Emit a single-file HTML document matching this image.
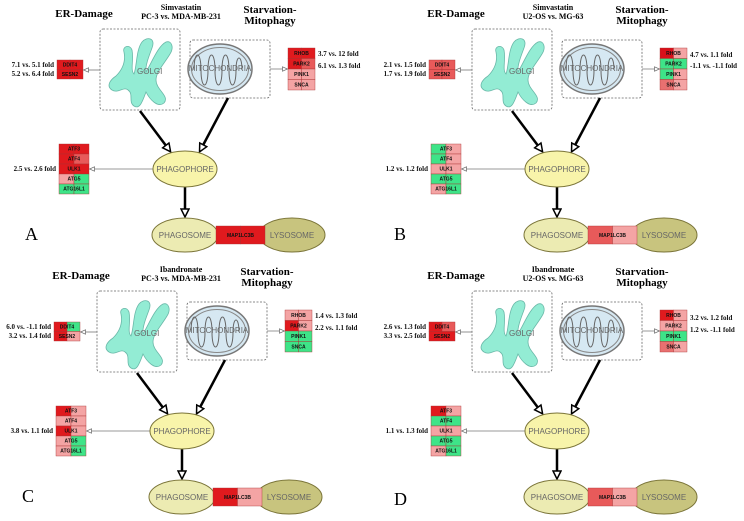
<!DOCTYPE html>
<html><head><meta charset="utf-8"><style>
html,body{margin:0;padding:0;background:#fff;}
svg{display:block;}
.h{font-family:"Liberation Serif",serif;font-weight:bold;}
.g{font-family:"Liberation Sans",sans-serif;font-weight:bold;font-size:5px;fill:#111;}
.f{font-family:"Liberation Serif",serif;font-weight:bold;font-size:7px;fill:#111;}
.o{font-family:"Liberation Sans",sans-serif;font-size:8px;fill:#666;}
</style></head><body>
<svg width="744" height="521" viewBox="0 0 744 521" xmlns="http://www.w3.org/2000/svg">
<defs>
<marker id="big" markerWidth="10" markerHeight="10" refX="8" refY="5" orient="auto" markerUnits="userSpaceOnUse"><path d="M1,1 L9,5 L1,9 Z" fill="#fff" stroke="#000" stroke-width="1.5"/></marker>
<marker id="sm" markerWidth="6" markerHeight="6" refX="5" refY="3" orient="auto" markerUnits="userSpaceOnUse"><path d="M0.5,0.8 L5.5,3 L0.5,5.2 Z" fill="#fff" stroke="#666" stroke-width="0.7"/></marker>
<g id="base">
<rect x="100" y="29" width="80" height="81" rx="3" fill="#fff" stroke="#666" stroke-width="0.8" stroke-dasharray="2,1.5"/>
<rect x="190" y="40" width="80" height="58" rx="3" fill="#fff" stroke="#666" stroke-width="0.8" stroke-dasharray="2,1.5"/>
<path d="M124,52 C122,46 130,44 132,50 C134,60 130,70 134,74 C137,66 136,50 142,42 C147,36 156,38 152,48 C149,56 145,66 146,72 C152,62 158,46 166,42 C172,40 174,48 170,54 C164,64 156,72 156,80 C156,90 170,96 164,103 C158,108 150,100 146,92 C143,100 140,110 134,106 C128,102 134,94 128,90 C124,86 118,94 112,90 C106,86 110,80 116,76 C122,70 126,62 124,52 Z" fill="#93ecd4" stroke="#6ab8a8" stroke-width="0.8"/>
<text x="137" y="74" class="o" fill="#5a9" font-size="7">GOLGI</text>
<ellipse cx="220" cy="69" rx="32" ry="25" fill="#d6e8f2" stroke="#777" stroke-width="1.5"/>
<ellipse cx="220" cy="69" rx="28.5" ry="21.5" fill="none" stroke="#888" stroke-width="1"/>
<path d="M194,70 c0,-20 7,-20 7,0 c0,20 7,20 7,0 c0,-20 7,-20 7,0 c0,20 7,20 7,0 c0,-20 7,-20 7,0 c0,20 7,20 7,0 c0,-16 6,-16 6,0" fill="none" stroke="#666" stroke-width="1"/>
<text x="220" y="71" class="o" font-size="5.5" text-anchor="middle" fill="#8a9aa8">MITOCHONDRIA</text>
<line x1="100" y1="70" x2="84" y2="70" stroke="#777" stroke-width="0.8" marker-end="url(#sm)"/>
<line x1="270" y1="69" x2="287" y2="69" stroke="#777" stroke-width="0.8" marker-end="url(#sm)"/>
<line x1="153" y1="169" x2="90" y2="169" stroke="#777" stroke-width="0.8" marker-end="url(#sm)"/>
<line x1="140" y1="111" x2="170" y2="151" stroke="#000" stroke-width="2.5" marker-end="url(#big)"/>
<line x1="228" y1="98" x2="200" y2="151" stroke="#000" stroke-width="2.5" marker-end="url(#big)"/>
<line x1="185" y1="187" x2="185" y2="216" stroke="#000" stroke-width="2.5" marker-end="url(#big)"/>
<ellipse cx="185" cy="169" rx="32" ry="18" fill="#f8f4aa" stroke="#7a7438" stroke-width="1"/>
<text x="185" y="172" class="o" font-size="8" text-anchor="middle">PHAGOPHORE</text>
<ellipse cx="185" cy="235" rx="33" ry="17" fill="#ecebb2" stroke="#7a7438" stroke-width="1"/>
<ellipse cx="292" cy="235" rx="33" ry="17" fill="#c8c47e" stroke="#7a7438" stroke-width="1"/>
<text x="185" y="238" class="o" font-size="8" text-anchor="middle">PHAGOSOME</text>
<text x="292" y="238" class="o" font-size="8" text-anchor="middle">LYSOSOME</text>
<text x="84" y="17" class="h" font-size="11" text-anchor="middle">ER-Damage</text>
<text x="270" y="13" class="h" font-size="11" text-anchor="middle">Starvation-</text>
<text x="270" y="24" class="h" font-size="11" text-anchor="middle">Mitophagy</text>
</g>
</defs>

<!-- Panel A -->
<g>
<use href="#base"/>
<text x="181" y="10" class="h" font-size="8" text-anchor="middle" font-weight="normal">Simvastatin</text>
<text x="181" y="19" class="h" font-size="8" text-anchor="middle">PC-3 vs. MDA-MB-231</text>
<text x="25" y="240" font-family="Liberation Serif" font-size="18">A</text>
<g stroke="#a33" stroke-width="0.4">
<rect x="57" y="60" width="13" height="9.5" fill="#e01a1e"/><rect x="70" y="60" width="13" height="9.5" fill="#e01a1e"/>
<rect x="57" y="69.5" width="13" height="9.5" fill="#e01a1e"/><rect x="70" y="69.5" width="13" height="9.5" fill="#e01a1e"/>
<rect x="288" y="48" width="13.5" height="10.5" fill="#e01a1e"/><rect x="301.5" y="48" width="13.5" height="10.5" fill="#e01a1e"/>
<rect x="288" y="58.5" width="13.5" height="10.5" fill="#e01a1e"/><rect x="301.5" y="58.5" width="13.5" height="10.5" fill="#e85a5a"/>
<rect x="288" y="69" width="13.5" height="10.5" fill="#f4a4a4"/><rect x="301.5" y="69" width="13.5" height="10.5" fill="#f4a4a4"/>
<rect x="288" y="79.5" width="13.5" height="10.5" fill="#f4a4a4"/><rect x="301.5" y="79.5" width="13.5" height="10.5" fill="#f4a4a4"/>
<rect x="59" y="144" width="15" height="10" fill="#e01a1e"/><rect x="74" y="144" width="15" height="10" fill="#e01a1e"/>
<rect x="59" y="154" width="15" height="10" fill="#e01a1e"/><rect x="74" y="154" width="15" height="10" fill="#e85a5a"/>
<rect x="59" y="164" width="15" height="10" fill="#e01a1e"/><rect x="74" y="164" width="15" height="10" fill="#e01a1e"/>
<rect x="59" y="174" width="15" height="10" fill="#f4a4a4"/><rect x="74" y="174" width="15" height="10" fill="#3ee488"/>
<rect x="59" y="184" width="15" height="10" fill="#3ee488"/><rect x="74" y="184" width="15" height="10" fill="#3ee488"/>
<rect x="216" y="226" width="24.5" height="18" fill="#e01a1e"/><rect x="240.5" y="226" width="24.5" height="18" fill="#e01a1e"/>
</g>
<text x="70" y="66.5" class="g" text-anchor="middle">DDIT4</text><text x="70" y="76" class="g" text-anchor="middle">SESN2</text>
<text x="301.5" y="55" class="g" text-anchor="middle">RHOB</text><text x="301.5" y="65.5" class="g" text-anchor="middle">PARK2</text><text x="301.5" y="76" class="g" text-anchor="middle">PINK1</text><text x="301.5" y="86.5" class="g" text-anchor="middle">SNCA</text>
<text x="74" y="150.5" class="g" text-anchor="middle">ATF3</text><text x="74" y="160.5" class="g" text-anchor="middle">ATF4</text><text x="74" y="170.5" class="g" text-anchor="middle">ULK1</text><text x="74" y="180.5" class="g" text-anchor="middle">ATG5</text><text x="74" y="190.5" class="g" text-anchor="middle">ATG16L1</text>
<text x="240.5" y="237" class="g" text-anchor="middle">MAP1LC3B</text>
<text x="54" y="67" class="f" text-anchor="end">7.1 vs. 5.1 fold</text><text x="54" y="76" class="f" text-anchor="end">5.2 vs. 6.4 fold</text>
<text x="318" y="56" class="f">3.7 vs. 12 fold</text><text x="318" y="68" class="f">6.1 vs. 1.3 fold</text>
<text x="56" y="171" class="f" text-anchor="end">2.5 vs. 2.6 fold</text>
</g>

<!-- Panel B -->
<g transform="translate(372,0)">
<use href="#base"/>
<text x="181" y="10" class="h" font-size="8" text-anchor="middle" font-weight="normal">Simvastatin</text>
<text x="181" y="19" class="h" font-size="8" text-anchor="middle">U2-OS vs. MG-63</text>
<text x="22" y="240" font-family="Liberation Serif" font-size="18">B</text>
<g stroke="#a33" stroke-width="0.4">
<rect x="57" y="60" width="13" height="9.5" fill="#e85a5a"/><rect x="70" y="60" width="13" height="9.5" fill="#e85a5a"/>
<rect x="57" y="69.5" width="13" height="9.5" fill="#e85a5a"/><rect x="70" y="69.5" width="13" height="9.5" fill="#e85a5a"/>
<rect x="288" y="48" width="13.5" height="10.5" fill="#d8101a"/><rect x="301.5" y="48" width="13.5" height="10.5" fill="#f4a4a4"/>
<rect x="288" y="58.5" width="13.5" height="10.5" fill="#3ee488"/><rect x="301.5" y="58.5" width="13.5" height="10.5" fill="#3ee488"/>
<rect x="288" y="69" width="13.5" height="10.5" fill="#3ee488"/><rect x="301.5" y="69" width="13.5" height="10.5" fill="#f4a4a4"/>
<rect x="288" y="79.5" width="13.5" height="10.5" fill="#e87070"/><rect x="301.5" y="79.5" width="13.5" height="10.5" fill="#f4a4a4"/>
<rect x="59" y="144" width="15" height="10" fill="#3ee488"/><rect x="74" y="144" width="15" height="10" fill="#f4a4a4"/>
<rect x="59" y="154" width="15" height="10" fill="#3ee488"/><rect x="74" y="154" width="15" height="10" fill="#f4a4a4"/>
<rect x="59" y="164" width="15" height="10" fill="#f4a4a4"/><rect x="74" y="164" width="15" height="10" fill="#f4a4a4"/>
<rect x="59" y="174" width="15" height="10" fill="#3ee488"/><rect x="74" y="174" width="15" height="10" fill="#3ee488"/>
<rect x="59" y="184" width="15" height="10" fill="#f4a4a4"/><rect x="74" y="184" width="15" height="10" fill="#3ee488"/>
<rect x="216" y="226" width="24.5" height="18" fill="#e85a5a"/><rect x="240.5" y="226" width="24.5" height="18" fill="#f4a4a4"/>
</g>
<text x="70" y="66.5" class="g" text-anchor="middle">DDIT4</text><text x="70" y="76" class="g" text-anchor="middle">SESN2</text>
<text x="301.5" y="55" class="g" text-anchor="middle">RHOB</text><text x="301.5" y="65.5" class="g" text-anchor="middle">PARK2</text><text x="301.5" y="76" class="g" text-anchor="middle">PINK1</text><text x="301.5" y="86.5" class="g" text-anchor="middle">SNCA</text>
<text x="74" y="150.5" class="g" text-anchor="middle">ATF3</text><text x="74" y="160.5" class="g" text-anchor="middle">ATF4</text><text x="74" y="170.5" class="g" text-anchor="middle">ULK1</text><text x="74" y="180.5" class="g" text-anchor="middle">ATG5</text><text x="74" y="190.5" class="g" text-anchor="middle">ATG16L1</text>
<text x="240.5" y="237" class="g" text-anchor="middle">MAP1LC3B</text>
<text x="54" y="67" class="f" text-anchor="end">2.1 vs. 1.5 fold</text><text x="54" y="76" class="f" text-anchor="end">1.7 vs. 1.9 fold</text>
<text x="318" y="57" class="f">4.7 vs. 1.1 fold</text><text x="318" y="68" class="f">-1.1 vs. -1.1 fold</text>
<text x="56" y="171" class="f" text-anchor="end">1.2 vs. 1.2 fold</text>
</g>

<!-- Panel C -->
<g transform="translate(-3,262)">
<use href="#base"/>
<text x="184" y="10" class="h" font-size="8" text-anchor="middle" font-weight="normal">Ibandronate</text>
<text x="184" y="19" class="h" font-size="8" text-anchor="middle">PC-3 vs. MDA-MB-231</text>
<text x="25" y="240" font-family="Liberation Serif" font-size="18">C</text>
<g stroke="#a33" stroke-width="0.4">
<rect x="57" y="60" width="13" height="9.5" fill="#e01a1e"/><rect x="70" y="60" width="13" height="9.5" fill="#3ee488"/>
<rect x="57" y="69.5" width="13" height="9.5" fill="#e01a1e"/><rect x="70" y="69.5" width="13" height="9.5" fill="#f4a4a4"/>
<rect x="288" y="48" width="13.5" height="10.5" fill="#f4a4a4"/><rect x="301.5" y="48" width="13.5" height="10.5" fill="#f4a4a4"/>
<rect x="288" y="58.5" width="13.5" height="10.5" fill="#e01a1e"/><rect x="301.5" y="58.5" width="13.5" height="10.5" fill="#f4a4a4"/>
<rect x="288" y="69" width="13.5" height="10.5" fill="#3ee488"/><rect x="301.5" y="69" width="13.5" height="10.5" fill="#3ee488"/>
<rect x="288" y="79.5" width="13.5" height="10.5" fill="#3ee488"/><rect x="301.5" y="79.5" width="13.5" height="10.5" fill="#3ee488"/>
<rect x="59" y="144" width="15" height="10" fill="#e01a1e"/><rect x="74" y="144" width="15" height="10" fill="#f4a4a4"/>
<rect x="59" y="154" width="15" height="10" fill="#f4a4a4"/><rect x="74" y="154" width="15" height="10" fill="#f4a4a4"/>
<rect x="59" y="164" width="15" height="10" fill="#e01a1e"/><rect x="74" y="164" width="15" height="10" fill="#f4a4a4"/>
<rect x="59" y="174" width="15" height="10" fill="#f4a4a4"/><rect x="74" y="174" width="15" height="10" fill="#3ee488"/>
<rect x="59" y="184" width="15" height="10" fill="#f4a4a4"/><rect x="74" y="184" width="15" height="10" fill="#3ee488"/>
<rect x="216" y="226" width="24.5" height="18" fill="#e01a1e"/><rect x="240.5" y="226" width="24.5" height="18" fill="#f4a4a4"/>
</g>
<text x="70" y="66.5" class="g" text-anchor="middle">DDIT4</text><text x="70" y="76" class="g" text-anchor="middle">SESN2</text>
<text x="301.5" y="55" class="g" text-anchor="middle">RHOB</text><text x="301.5" y="65.5" class="g" text-anchor="middle">PARK2</text><text x="301.5" y="76" class="g" text-anchor="middle">PINK1</text><text x="301.5" y="86.5" class="g" text-anchor="middle">SNCA</text>
<text x="74" y="150.5" class="g" text-anchor="middle">ATF3</text><text x="74" y="160.5" class="g" text-anchor="middle">ATF4</text><text x="74" y="170.5" class="g" text-anchor="middle">ULK1</text><text x="74" y="180.5" class="g" text-anchor="middle">ATG5</text><text x="74" y="190.5" class="g" text-anchor="middle">ATG16L1</text>
<text x="240.5" y="237" class="g" text-anchor="middle">MAP1LC3B</text>
<text x="54" y="67" class="f" text-anchor="end">6.0 vs. -1.1 fold</text><text x="54" y="76" class="f" text-anchor="end">3.2 vs. 1.4 fold</text>
<text x="318" y="56" class="f">1.4 vs. 1.3 fold</text><text x="318" y="68" class="f">2.2 vs. 1.1 fold</text>
<text x="56" y="171" class="f" text-anchor="end">3.8 vs. 1.1 fold</text>
</g>

<!-- Panel D -->
<g transform="translate(372,262)">
<use href="#base"/>
<text x="181" y="10" class="h" font-size="8" text-anchor="middle" font-weight="normal">Ibandronate</text>
<text x="181" y="19" class="h" font-size="8" text-anchor="middle">U2-OS vs. MG-63</text>
<text x="22" y="243" font-family="Liberation Serif" font-size="18">D</text>
<g stroke="#a33" stroke-width="0.4">
<rect x="57" y="60" width="13" height="9.5" fill="#e01a1e"/><rect x="70" y="60" width="13" height="9.5" fill="#e85a5a"/>
<rect x="57" y="69.5" width="13" height="9.5" fill="#e01a1e"/><rect x="70" y="69.5" width="13" height="9.5" fill="#e01a1e"/>
<rect x="288" y="48" width="13.5" height="10.5" fill="#e01a1e"/><rect x="301.5" y="48" width="13.5" height="10.5" fill="#f4a4a4"/>
<rect x="288" y="58.5" width="13.5" height="10.5" fill="#f4a4a4"/><rect x="301.5" y="58.5" width="13.5" height="10.5" fill="#f4a4a4"/>
<rect x="288" y="69" width="13.5" height="10.5" fill="#3ee488"/><rect x="301.5" y="69" width="13.5" height="10.5" fill="#3ee488"/>
<rect x="288" y="79.5" width="13.5" height="10.5" fill="#e87070"/><rect x="301.5" y="79.5" width="13.5" height="10.5" fill="#f4a4a4"/>
<rect x="59" y="144" width="15" height="10" fill="#e01a1e"/><rect x="74" y="144" width="15" height="10" fill="#f4a4a4"/>
<rect x="59" y="154" width="15" height="10" fill="#3ee488"/><rect x="74" y="154" width="15" height="10" fill="#3ee488"/>
<rect x="59" y="164" width="15" height="10" fill="#f4a4a4"/><rect x="74" y="164" width="15" height="10" fill="#f4a4a4"/>
<rect x="59" y="174" width="15" height="10" fill="#3ee488"/><rect x="74" y="174" width="15" height="10" fill="#3ee488"/>
<rect x="59" y="184" width="15" height="10" fill="#f4a4a4"/><rect x="74" y="184" width="15" height="10" fill="#3ee488"/>
<rect x="216" y="226" width="24.5" height="18" fill="#e85a5a"/><rect x="240.5" y="226" width="24.5" height="18" fill="#f4a4a4"/>
</g>
<text x="70" y="66.5" class="g" text-anchor="middle">DDIT4</text><text x="70" y="76" class="g" text-anchor="middle">SESN2</text>
<text x="301.5" y="55" class="g" text-anchor="middle">RHOB</text><text x="301.5" y="65.5" class="g" text-anchor="middle">PARK2</text><text x="301.5" y="76" class="g" text-anchor="middle">PINK1</text><text x="301.5" y="86.5" class="g" text-anchor="middle">SNCA</text>
<text x="74" y="150.5" class="g" text-anchor="middle">ATF3</text><text x="74" y="160.5" class="g" text-anchor="middle">ATF4</text><text x="74" y="170.5" class="g" text-anchor="middle">ULK1</text><text x="74" y="180.5" class="g" text-anchor="middle">ATG5</text><text x="74" y="190.5" class="g" text-anchor="middle">ATG16L1</text>
<text x="240.5" y="237" class="g" text-anchor="middle">MAP1LC3B</text>
<text x="54" y="67" class="f" text-anchor="end">2.6 vs. 1.3 fold</text><text x="54" y="76" class="f" text-anchor="end">3.3 vs. 2.5 fold</text>
<text x="318" y="58" class="f">3.2 vs. 1.2 fold</text><text x="318" y="70" class="f">1.2 vs. -1.1 fold</text>
<text x="56" y="171" class="f" text-anchor="end">1.1 vs. 1.3 fold</text>
</g>
</svg>
</body></html>
